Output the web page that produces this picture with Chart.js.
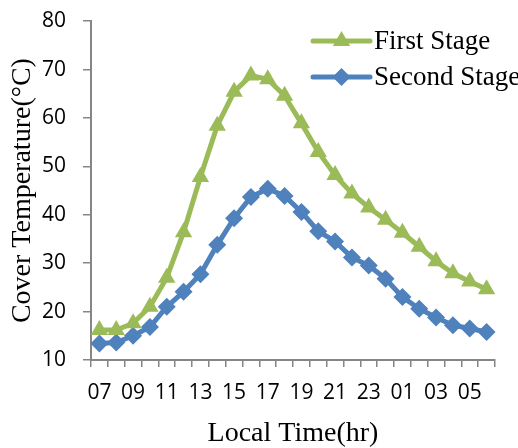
<!DOCTYPE html>
<html>
<head>
<meta charset="utf-8">
<script src="https://cdn.jsdelivr.net/npm/chart.js@4/dist/chart.umd.min.js"></script>
<style>
  html, body { margin: 0; padding: 0; background: #ffffff; }
  #wrap { width: 518px; height: 448px; position: relative; overflow: hidden; }
</style>
</head>
<body>
<div id="wrap"><canvas id="c" width="518" height="448"></canvas></div>
<script>
// Hourly local time, 07:00 through 06:00 next day
const hours = ['07','08','09','10','11','12','13','14','15','16','17','18',
               '19','20','21','22','23','00','01','02','03','04','05','06'];

// Cover temperature (°C)
const firstStage  = [16.2, 16.2, 17.6, 21.0, 27.0, 36.4, 47.8, 58.4, 65.4, 68.8, 68.0, 64.6,
                     58.9, 53.0, 48.2, 44.4, 41.5, 39.0, 36.3, 33.4, 30.4, 27.9, 26.2, 24.6];
const secondStage = [13.4, 13.6, 15.0, 16.8, 21.0, 24.1, 27.7, 33.8, 39.3, 43.7, 45.4, 43.9,
                     40.6, 36.6, 34.5, 31.2, 29.5, 26.8, 23.0, 20.6, 18.8, 17.2, 16.5, 15.8];

const seriesNames = ['First Stage', 'Second Stage'];
const yTicks = { min: 10, max: 80, step: 10 };

const GREEN = '#9BBB59';
const BLUE  = '#4F81BD';
const AXIS  = '#868686';
const SANS  = '"Open Sans", "Liberation Sans", sans-serif';
const SERIF = '"Liberation Serif", "Times New Roman", serif';

// Legend in the upper right: a short line with the series marker on it
const insideLegend = {
  id: 'insideLegend',
  afterDraw(chart) {
    const ctx = chart.ctx;
    const items = chart.data.datasets;
    const x0 = 313, x1 = 370, textX = 374;
    const rows = [41, 77];
    ctx.save();
    items.forEach((ds, i) => {
      const y = rows[i];
      ctx.strokeStyle = ds.borderColor;
      ctx.lineWidth = 5;
      ctx.lineCap = 'round';
      ctx.beginPath();
      ctx.moveTo(x0, y);
      ctx.lineTo(x1, y);
      ctx.stroke();
      ctx.fillStyle = ds.borderColor;
      const cx = (x0 + x1) / 2;
      const r = ds.pointRadius;
      ctx.beginPath();
      if (ds.pointStyle === 'triangle') {
        ctx.moveTo(cx, y - r);
        ctx.lineTo(cx + r * Math.sqrt(3) / 2, y + r / 2);
        ctx.lineTo(cx - r * Math.sqrt(3) / 2, y + r / 2);
      } else {
        ctx.moveTo(cx - r, y);
        ctx.lineTo(cx, y - r);
        ctx.lineTo(cx + r, y);
        ctx.lineTo(cx, y + r);
      }
      ctx.closePath();
      ctx.fill();
      ctx.fillStyle = '#000000';
      ctx.font = '27px ' + SERIF;
      ctx.textBaseline = 'middle';
      ctx.textAlign = 'left';
      ctx.fillText(ds.label, textX, y + 1);
    });
    ctx.restore();
  }
};

new Chart(document.getElementById('c'), {
  type: 'line',
  data: {
    labels: hours,
    datasets: [
      {
        label: seriesNames[0],
        data: firstStage,
        borderColor: GREEN,
        backgroundColor: GREEN,
        borderWidth: 5,
        pointStyle: 'triangle',
        pointRadius: 10,
        pointBorderWidth: 0,
        pointBackgroundColor: GREEN,
        tension: 0
      },
      {
        label: seriesNames[1],
        data: secondStage,
        borderColor: BLUE,
        backgroundColor: BLUE,
        borderWidth: 5,
        pointStyle: 'rectRot',
        pointRadius: 9,
        pointBorderWidth: 0,
        pointBackgroundColor: BLUE,
        tension: 0
      }
    ]
  },
  options: {
    responsive: false,
    animation: false,
    devicePixelRatio: 1,
    layout: { padding: { top: 21, right: 23, bottom: 0, left: 0 } },
    plugins: { legend: { display: false }, tooltip: { enabled: false } },
    scales: {
      x: {
        type: 'category',
        offset: true,
        grid: {
          offset: true,
          drawOnChartArea: false,
          color: AXIS,
          tickColor: AXIS,
          tickLength: 7,
          lineWidth: 1.5
        },
        border: { color: AXIS, width: 2 },
        ticks: {
          autoSkip: false,
          maxRotation: 0,
          padding: 13,
          color: '#000000',
          font: { family: SANS, size: 21 },
          callback: function (v, i) { return i % 2 === 0 ? this.getLabelForValue(v) : ''; }
        },
        title: {
          display: true,
          text: 'Local Time(hr)',
          color: '#000000',
          font: { family: SERIF, size: 28, lineHeight: 1.0 },
          padding: { top: 0, bottom: 0 }
        },
        afterFit(scale) { scale.height = 88; }
      },
      y: {
        min: yTicks.min,
        max: yTicks.max,
        grid: {
          drawOnChartArea: false,
          color: AXIS,
          tickColor: AXIS,
          tickLength: 8,
          lineWidth: 1.5
        },
        border: { color: AXIS, width: 2 },
        ticks: {
          stepSize: yTicks.step,
          padding: 17,
          color: '#000000',
          font: { family: SANS, size: 21, lineHeight: 0.4 }
        },
        title: {
          display: true,
          text: 'Cover Temperature(°C)',
          color: '#000000',
          font: { family: SERIF, size: 28 },
          padding: { top: 6, bottom: 0 }
        },
        afterFit(scale) { scale.width = 91; }
      }
    }
  },
  plugins: [insideLegend]
});
</script>
</body>
</html>
